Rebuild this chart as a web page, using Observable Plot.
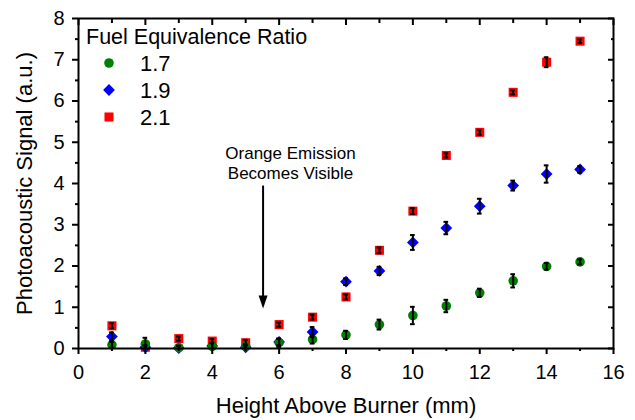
<!DOCTYPE html>
<html><head><meta charset="utf-8">
<script src="https://cdn.jsdelivr.net/npm/d3@7"></script>
<script src="https://cdn.jsdelivr.net/npm/@observablehq/plot@0.6"></script>
<style>
html,body{margin:0;padding:0;background:#fff;}
#wrap{position:relative;width:635px;height:420px;font-family:"Liberation Sans",Arial,sans-serif;}
#legend{position:absolute;left:0;top:0;pointer-events:none;}
</style></head><body><div id="wrap"></div>
<script>
// Height above burner (mm)
const heights = [1,2,3,4,5,6,7,8,9,10,11,12,13,14,15];
// Fuel equivalence ratio 1.7
const signal17 = [0.09,0.11,0.02,0.05,0.05,0.14,0.22,0.33,0.58,0.80,1.03,1.35,1.64,1.99,2.10];
const error17  = [0.07,0.15,0.05,0.08,0.05,0.10,0.10,0.10,0.12,0.21,0.15,0.10,0.16,0.08,0.06];
// Fuel equivalence ratio 1.9
const signal19 = [0.29,0.03,0.01,0.06,0.03,0.16,0.40,1.62,1.88,2.57,2.92,3.45,3.95,4.23,4.34];
const error19  = [0.10,0.05,0.05,0.08,0.05,0.08,0.12,0.08,0.10,0.18,0.15,0.18,0.12,0.21,0.08];
// Fuel equivalence ratio 2.1
const signal21 = [0.55,0.03,0.24,0.18,0.14,0.58,0.76,1.25,2.38,3.33,4.68,5.24,6.21,6.94,7.45];
const error21  = [0.06,0.04,0.05,0.05,0.07,0.05,0.06,0.06,0.07,0.07,0.05,0.06,0.05,0.12,0.04];
const ratios = ["1.7","1.9","2.1"];
const legendTitle = "Fuel Equivalence Ratio";
const xMajorTicks = [0,2,4,6,8,10,12,14,16];
const xMinorTicks = [1,3,5,7,9,11,13,15];
const yMajorTicks = [0,1,2,3,4,5,6,7,8];
const yMinorTicks = [0.5,1.5,2.5,3.5,4.5,5.5,6.5,7.5];
const annotationText = "Orange Emission\nBecomes Visible";
const annotationPos = {x: 6.34, y: 4.5};
const arrowPos = {x: 5.52, yStart: 3.95, yEnd: 0.97};

const rows = (ys, es) => heights.map((h, i) => ({x: h, y: ys[i], e: es[i]}));
const d17 = rows(signal17, error17), d19 = rows(signal19, error19), d21 = rows(signal21, error21);

const errMarks = d => [
  Plot.ruleX(d, {x: "x", y1: r => r.y - r.e, y2: r => r.y + r.e, stroke: "black", strokeWidth: 2, clip: true}),
  Plot.ruleY(d, {y: r => r.y + r.e, x1: r => r.x - 0.07, x2: r => r.x + 0.07, stroke: "black", strokeWidth: 2, clip: true}),
  Plot.ruleY(d, {y: r => r.y - r.e, x1: r => r.x - 0.07, x2: r => r.x + 0.07, stroke: "black", strokeWidth: 2, clip: true})
];

const arrowHead = {draw(ctx, size) { const s = Math.sqrt(size) / Math.sqrt(Math.PI * 25); ctx.moveTo(0, 0); ctx.lineTo(-4.5 * s, -13 * s); ctx.lineTo(4.5 * s, -13 * s); ctx.closePath(); }};

const fs = 20;
const chart = Plot.plot({
  width: 635, height: 420,
  marginLeft: 78, marginRight: 22, marginTop: 18, marginBottom: 72,
  style: {fontFamily: '"Liberation Sans", Arial, sans-serif', fontSize: fs + "px", color: "black", background: "white", overflow: "visible"},
  x: {domain: [0, 16]},
  y: {domain: [0, 8]},
  marks: [
    Plot.dot(d21, {x: "x", y: "y", symbol: "square", fill: "#ff0000", r: 5.1}),
    Plot.dot(d19, {x: "x", y: "y", symbol: "diamond2", fill: "#0000ff", r: 5.3}),
    Plot.dot(d17, {x: "x", y: "y", symbol: "circle", fill: "#008000", r: 4.8}),
    ...errMarks(d21), ...errMarks(d19), ...errMarks(d17),
    Plot.link([arrowPos], {x1: "x", x2: "x", y1: "yStart", y2: d => d.yEnd + 0.2, stroke: "black", strokeWidth: 2}),
    Plot.dot([arrowPos], {x: "x", y: "yEnd", symbol: arrowHead, r: 5, fill: "black", stroke: "none"}),
    Plot.text([annotationPos], {x: "x", y: "y", text: () => annotationText, fontSize: 17, lineHeight: 1.18, fill: "black"}),
    Plot.axisX({ticks: xMajorTicks, tickSize: 6, tickPadding: 10, strokeWidth: 2, fontSize: fs,
      label: "Height Above Burner (mm)", labelAnchor: "center", labelArrow: "none", labelOffset: 64}),
    Plot.axisX({ticks: xMinorTicks, tickSize: 3, strokeWidth: 2, tickFormat: () => "", label: null}),
    Plot.axisX({anchor: "top", ticks: xMajorTicks, tickSize: -6, strokeWidth: 2, tickFormat: () => "", label: null}),
    Plot.axisX({anchor: "top", ticks: xMinorTicks, tickSize: -4, strokeWidth: 2, tickFormat: () => "", label: null}),
    Plot.axisY({ticks: yMajorTicks, tickSize: 6, tickPadding: 8, strokeWidth: 2, fontSize: fs,
      label: "Photoacoustic Signal (a.u.)", labelAnchor: "center", labelArrow: "none", labelOffset: 62}),
    Plot.axisY({ticks: yMinorTicks, tickSize: 3, strokeWidth: 2, tickFormat: () => "", label: null}),
    Plot.axisY({anchor: "right", ticks: yMajorTicks, tickSize: -6, strokeWidth: 2, tickFormat: () => "", label: null}),
    Plot.axisY({anchor: "right", ticks: yMinorTicks, tickSize: -3, strokeWidth: 2, tickFormat: () => "", label: null}),
    Plot.frame({stroke: "black", strokeWidth: 2})
  ]
});
// axis label font size
d3.select(chart).selectAll("[aria-label='x-axis label'], [aria-label='y-axis label']").attr("font-size", 22);

const wrap = document.getElementById("wrap");
wrap.appendChild(chart);

// Legend overlay
const colors = ["#008000", "#0000ff", "#ff0000"];
const shapes = [d3.symbolCircle, d3.symbolDiamond2, d3.symbolSquare];
const radii = [4.8, 5.3, 5.1];
const lg = d3.select(wrap).append("svg").attr("id", "legend").attr("width", 635).attr("height", 420)
  .attr("font-family", '"Liberation Sans", Arial, sans-serif');
lg.append("text").attr("x", 86).attr("y", 44).attr("font-size", 21.5).text(legendTitle);
ratios.forEach((r, i) => {
  const cy = 63 + 27 * i;
  lg.append("path").attr("transform", `translate(109,${cy})`)
    .attr("d", d3.symbol(shapes[i], Math.PI * radii[i] * radii[i])()).attr("fill", colors[i]);
  lg.append("text").attr("x", 140).attr("y", cy).attr("dy", "0.36em").attr("font-size", 22).text(r);
});
</script></body></html>
